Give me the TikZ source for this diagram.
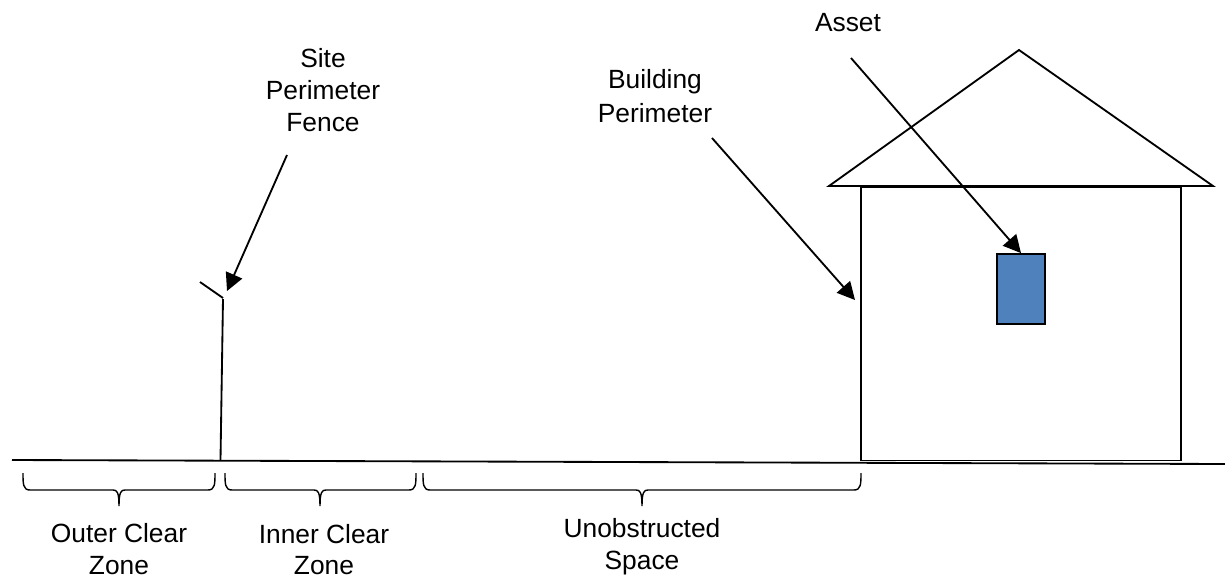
\documentclass[tikz,border=0pt]{standalone}
\usepackage{fontspec}
\setmainfont{Liberation Sans}
\usetikzlibrary{arrows.meta}
\definecolor{assetBlue}{RGB}{79,129,189}
\tikzset{
  line/.style={draw=black, line width=1.05pt},
  thinline/.style={draw=black, line width=0.8pt},
  pointer/.style={line, -{Triangle[length=10pt, width=10pt]}},
  label/.style={align=center, inner sep=0pt, font=\fontsize{15}{18.2}\selectfont},
}
\begin{document}
\begin{tikzpicture}[x=0.02cm, y=-0.02cm]
  \useasboundingbox (0,0) rectangle (1225,579);

  % Draw the ground and the fence first

  \coordinate (groundLeft) at (12,460);
  \coordinate (groundRight) at (1225,464);
  \draw[line] (groundLeft) -- (groundRight);

  \coordinate (fenceFoot) at (220.5,460);
  \coordinate (fenceTop) at (223,299);
  \coordinate (fenceArm) at (200,282);
  \draw[line] (fenceFoot) -- (fenceTop);
  \draw[line] (fenceTop) ++(0,-1) -- (fenceArm);

  % Then the house

  \node[line, rectangle, inner sep=0pt, minimum width=0.02cm*320, minimum height=0.02cm*273] (building) at (1021,324) {};
  \coordinate (roofLeft) at (829,186);
  \coordinate (roofTop) at (1019,50);
  \coordinate (roofRight) at (1213,186);
  \draw[line, line join=miter] (roofLeft) -- (roofTop) -- (roofRight) -- cycle;

  \node[line, rectangle, fill=assetBlue, inner sep=0pt, minimum width=0.02cm*48, minimum height=0.02cm*70] (asset) at (1021,289) {};

  % Braces along the ground: left, right, tip

  \foreach \lbound/\ubound/\tip in {23/215/119, 225/416/320, 423/861/642}{
    \draw[thinline] (\lbound,473)
      .. controls (\lbound,484) and (\lbound,490) .. (\lbound+7,490)
      -- (\tip-6,490) .. controls (\tip-2,490) and (\tip,492) .. (\tip,506)
      .. controls (\tip,492) and (\tip+2,490) .. (\tip+6,490)
      -- (\ubound-7,490) .. controls (\ubound,490) and (\ubound,484) .. (\ubound,473);
  }

  % Labels

  \node[label] (assetLabel) at (848,23) {Asset};
  \node[label] (buildingLabel) at (655,96) {Building\\[1.5pt]Perimeter};
  \node[label] (fenceLabel) at (323,90) {Site\\Perimeter\\Fence};
  \node[label] (outerLabel) at (119,549) {Outer Clear\\Zone};
  \node[label] (innerLabel) at (324,549.5) {Inner Clear\\[-1pt]Zone};
  \node[label] (spaceLabel) at (642,547) {Unobstructed\\Space};

  % Pointers from the labels

  \coordinate (assetStart) at (851,58);
  \coordinate (buildingStart) at (712,138);
  \coordinate (buildingEnd) at (855,300);
  \coordinate (fenceStart) at (287,155);
  \coordinate (fenceEnd) at (227,291);
  \draw[pointer] (assetStart) -- (asset.north);
  \draw[pointer] (buildingStart) -- (buildingEnd);
  \draw[pointer] (fenceStart) -- (fenceEnd);
\end{tikzpicture}
\end{document}
